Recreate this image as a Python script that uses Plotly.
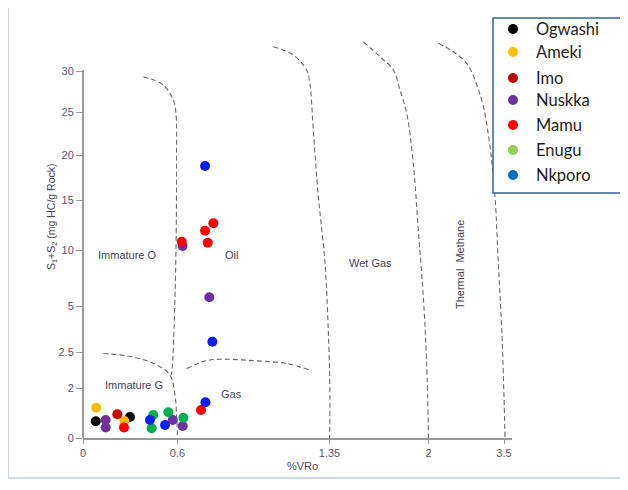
import numpy as np
import plotly.graph_objects as go

# ---------------- axis scales as printed on the chart (non-linear) ----------------
X_TICKS = [0, 0.6, 1.35, 2, 3.5]
X_TICK_TEXT = ["0", "0.6", "1.35", "2", "3.5"]
Y_TICKS = [0, 2, 2.5, 5, 10, 15, 20, 25, 30]
Y_TICK_TEXT = ["0", "2", "2.5", "5", "10", "15", "20", "25", "30"]

# ---------------- sample data (%VRo, S1+S2 mg HC/g rock) ----------------
ogwashi_ro = [0.081, 0.298]
ogwashi_s = [0.67, 0.84]
ameki_ro = [0.084, 0.263]
ameki_s = [1.21, 0.68]
imo_ro = [0.218]
imo_s = [0.95]
nuskka_ro = [0.144, 0.144, 0.570, 0.626, 0.757, 0.625]
nuskka_s = [0.72, 0.42, 0.72, 0.48, 5.78, 10.4]
mamu_ro = [0.260, 0.716, 0.621, 0.749, 0.736, 0.777]
mamu_s = [0.42, 1.12, 10.83, 10.73, 11.93, 12.67]
enugu_ro = [0.446, 0.436, 0.542, 0.629]
enugu_s = [0.92, 0.39, 1.03, 0.81]
nkporo_ro = [0.425, 0.521, 0.738, 0.736, 0.772]
nkporo_s = [0.72, 0.52, 1.43, 18.78, 3.06]

# ---------------- maturity zone boundaries (%VRo, S1+S2) ----------------
imm_oil_ro = [0.383, 0.510, 0.573, 0.590, 0.594, 0.590, 0.578, 0.570, 0.562]
imm_oil_s = [29.30, 28.29, 26.46, 24.88, 19.44, 9.73, 3.70, 2.39, 2.18]
imm_gas_ro = [0.129, 0.319, 0.468, 0.552, 0.584, 0.594, 0.600]
imm_gas_s = [2.48, 2.43, 2.32, 2.18, 1.72, 0.92, 0.0]
oil_gas_ro = [0.645, 0.727, 0.810, 0.974, 1.139, 1.262]
oil_gas_s = [2.27, 2.37, 2.40, 2.38, 2.34, 2.24]
oil_wet_ro = [1.073, 1.171, 1.237, 1.253, 1.270, 1.295, 1.312, 1.328, 1.344, 1.353, 1.35]
oil_wet_s = [32.96, 31.95, 30.12, 28.50, 22.91, 15.37, 12.0, 8.81, 3.70, 1.65, 0.0]
wet_dry_ro = [1.572, 1.682, 1.769, 1.813, 1.857, 1.900, 1.933, 1.966, 1.988, 2.0]
wet_dry_s = [33.57, 31.74, 30.12, 27.68, 24.85, 19.08, 12.0, 5.83, 2.34, 0.0]
dry_end_ro = [2.195, 2.493, 2.759, 2.924, 3.089, 3.222, 3.321, 3.387, 3.455, 3.5, 3.52]
dry_end_s = [33.38, 32.35, 30.94, 28.90, 25.65, 20.97, 15.37, 8.81, 3.70, 1.65, 0.0]

# ---------------- layout of the scale (pixel offsets of each printed tick) ----------------
X_POS = [0, 94.5, 246.5, 345.5, 421]
Y_POS = [0, 50, 86, 132, 188, 238, 283, 326, 367]
PW, PH = 429, 408          # plot area size in px
OX, OY = 83, 438           # plot origin on the page (px)


def piecewise(v, ticks, pos):
    v = np.asarray(v, float)
    out = np.interp(v, ticks, pos)
    hi = v > ticks[-1]
    slope = (pos[-1] - pos[-2]) / (ticks[-1] - ticks[-2])
    out[hi] = pos[-1] + (v[hi] - ticks[-1]) * slope
    return out


def sx(v):
    return piecewise(v, X_TICKS, X_POS)


def sy(v):
    return piecewise(v, Y_TICKS, Y_POS)


def px(x):   # page px -> paper x
    return (x - OX) / PW


def py(y):   # page px -> paper y
    return (OY - y) / PH


series = [
    ("Ogwashi", ogwashi_ro, ogwashi_s, "#000000", "#000000"),
    ("Ameki", ameki_ro, ameki_s, "#FFB900", "#FFC000"),
    ("Imo", imo_ro, imo_s, "#C80000", "#C00000"),
    ("Nuskka", nuskka_ro, nuskka_s, "#7030A0", "#7030A0"),
    ("Mamu", mamu_ro, mamu_s, "#FF0000", "#FF0000"),
    ("Enugu", enugu_ro, enugu_s, "#00B050", "#92D050"),
    ("Nkporo", nkporo_ro, nkporo_s, "#0A1EF5", "#0070C0"),
]

fig = go.Figure()

LINE = dict(color="#6a6a6a", width=1.1, dash="5px,3px")
for bro, bs in [(imm_oil_ro, imm_oil_s), (imm_gas_ro, imm_gas_s), (oil_gas_ro, oil_gas_s),
                (oil_wet_ro, oil_wet_s), (wet_dry_ro, wet_dry_s), (dry_end_ro, dry_end_s)]:
    fig.add_trace(go.Scatter(x=sx(bro), y=sy(bs), mode="lines", line=LINE,
                             showlegend=False, hoverinfo="skip", line_shape="spline"))

for name, ro, s, col, _ in series:
    fig.add_trace(go.Scatter(x=sx(ro), y=sy(s), mode="markers", name=name,
                             marker=dict(color=col, size=10, line=dict(width=0)),
                             showlegend=False, cliponaxis=False))

TXT = "#4a4458"
TICKC = "#5d5470"
NARROW = "Liberation Sans Narrow, Arial Narrow, Liberation Sans, Arial, sans-serif"


def label(text, x, y, angle=0, size=11, ref="x"):
    fig.add_annotation(x=x, y=y, xref="x" if ref == "x" else "paper",
                       yref="y" if ref == "x" else "paper", text=text, showarrow=False,
                       xanchor="center", yanchor="middle",
                       textangle=angle, font=dict(size=size, color=TXT, family=NARROW))


label("Immature O", 44.5, 183)
label("Oil", 148.5, 183)
label("Wet Gas", 287, 175)
label("Thermal  Methane", 377, 173, angle=-90)
label("Immature G", 50.5, 53)
label("Gas", 148, 44)
label("S<sub>1</sub>+S<sub>2</sub> (mg HC/g Rock)", px(52), py(217), angle=-90,
      size=10.5, ref="paper")
label("%VRo", px(302), py(466), size=11, ref="paper")

# ---------------- legend box (drawn as in the original picture) ----------------
LEG_Y = [29, 52, 78, 100, 125, 150, 175]
fig.add_shape(type="rect", xref="paper", yref="paper", x0=px(493), x1=px(623),
              y0=py(193), y1=py(18), line=dict(color="#3A5F9E", width=1.5),
              fillcolor="white", layer="above")
for (name, _, _, _, lcol), ly in zip(series, LEG_Y):
    fig.add_shape(type="circle", xref="paper", yref="paper", x0=px(508), x1=px(518),
                  y0=py(ly + 5), y1=py(ly - 5), line=dict(width=0), fillcolor=lcol,
                  layer="above")
    fig.add_annotation(x=px(534), y=py(ly), xref="paper", yref="paper", text=name,
                       showarrow=False, xanchor="left", yanchor="middle",
                       font=dict(family="Lato, Calibri, sans-serif", size=16.5,
                                 color="#1e1e1e"))

# y axis line (only up to the 30 tick) and outer frame lines
fig.add_shape(type="line", xref="paper", yref="paper", x0=0, x1=0, y0=0, y1=py(70),
              line=dict(color="#9a9a9a", width=2))
fig.add_shape(type="line", xref="paper", yref="paper", x0=px(8), x1=px(8),
              y0=py(478), y1=py(-2), line=dict(color="#9fb3cc", width=1))
fig.add_shape(type="line", xref="paper", yref="paper", x0=px(8), x1=px(630),
              y0=py(478), y1=py(478), line=dict(color="#9fb3cc", width=1))

# the page body adds an 8px offset, so margins are reduced accordingly
fig.update_layout(
    width=628, height=490,
    margin=dict(l=OX - 8, r=628 - (OX - 8) - PW, t=OY - PH - 8, b=490 - (OY - 8)),
    plot_bgcolor="white", paper_bgcolor="white",
    showlegend=False,
    xaxis=dict(range=[0, PW], tickvals=sx(X_TICKS), ticktext=X_TICK_TEXT,
               showgrid=False, zeroline=False, showline=True, linecolor="#9a9a9a",
               linewidth=2, ticks="outside", ticklen=4, tickcolor="#9a9a9a",
               tickfont=dict(size=11, color=TICKC, family=NARROW)),
    yaxis=dict(range=[0, PH], tickvals=sy(Y_TICKS), ticktext=Y_TICK_TEXT,
               showgrid=False, zeroline=False, showline=False, ticks="outside",
               ticklen=6, tickcolor="#9a9a9a",
               tickfont=dict(size=11, color=TICKC, family=NARROW)),
)

fig.write_html("out.html")
